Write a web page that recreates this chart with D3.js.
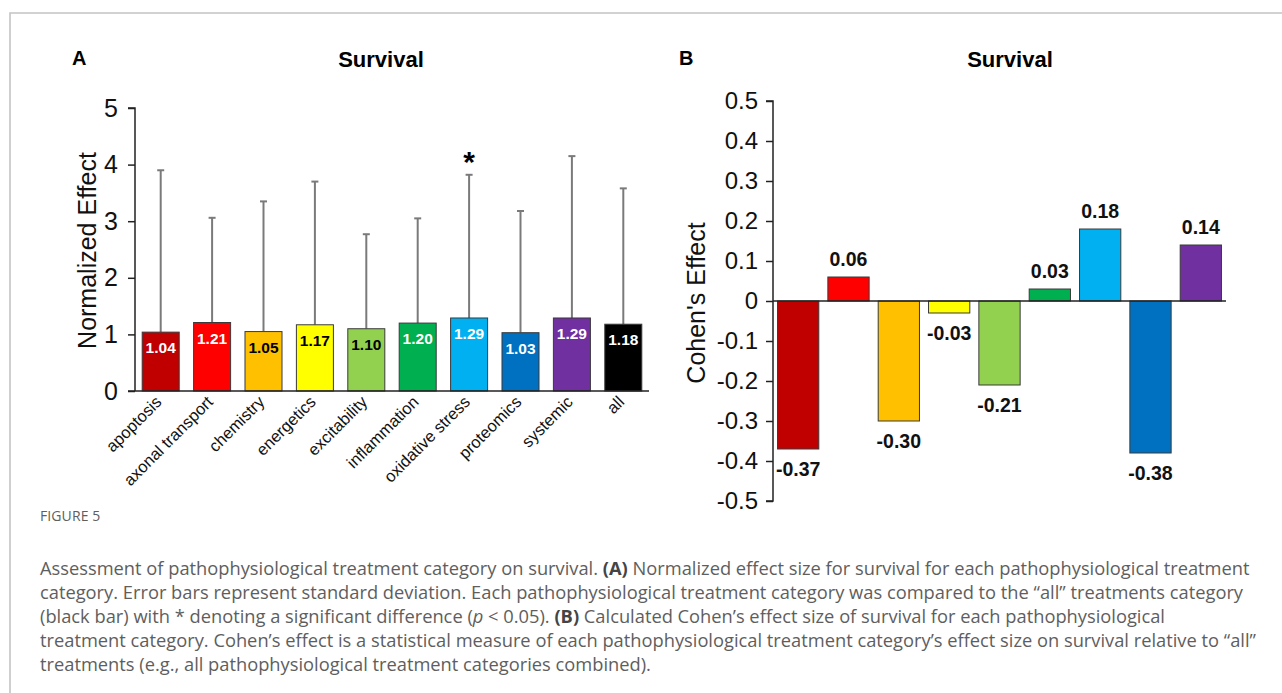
<!DOCTYPE html>
<html>
<head>
<meta charset="utf-8">
<script src="https://cdn.jsdelivr.net/npm/d3@7"></script>
<style>
  html, body { margin: 0; padding: 0; background: #fff; }
  svg { display: block; }
  .chart text { font-family: "Liberation Sans", Arial, sans-serif; }
  .caption text { font-family: "Open Sans", "Noto Sans", sans-serif; }
</style>
</head>
<body>
<svg id="fig" width="1282" height="693"></svg>
<script>
// Treatment categories (the last one pools every treatment)
const categories = ["apoptosis", "axonal transport", "chemistry", "energetics", "excitability",
                    "inflammation", "oxidative stress", "proteomics", "systemic", "all"];
// Panel A: normalized effect (mean) and its standard deviation
const normalizedMean = [1.04, 1.21, 1.05, 1.17, 1.10, 1.20, 1.29, 1.03, 1.29, 1.18];
const normalizedSD   = [2.86, 1.85, 2.30, 2.53, 1.67, 1.85, 2.53, 2.15, 2.86, 2.40];
// Categories significantly different from "all"
const significant = ["oxidative stress"];
// Panel B: Cohen's effect of each category relative to "all"
const cohenCategories = categories.slice(0, 9);
const cohenValues = [-0.37, 0.06, -0.30, -0.03, -0.21, 0.03, 0.18, -0.38, 0.14];
// Axis ticks
const normTicks = [0, 1, 2, 3, 4, 5];
const cohenTicks = [0.5, 0.4, 0.3, 0.2, 0.1, 0, -0.1, -0.2, -0.3, -0.4, -0.5];

const palette = ["#C00000", "#FF0000", "#FFC000", "#FFFF00", "#92D050",
                 "#00B050", "#00B0F0", "#0070C0", "#7030A0", "#000000"];
const color = d3.scaleOrdinal().domain(categories).range(palette);

// pick white or black text depending on bar brightness
function textOn(fill) {
  const c = d3.rgb(fill);
  const lin = v => { v /= 255; return v <= 0.03928 ? v / 12.92 : Math.pow((v + 0.055) / 1.055, 2.4); };
  const L = 0.2126 * lin(c.r) + 0.7152 * lin(c.g) + 0.0722 * lin(c.b);
  return L > 0.45 ? "#000" : "#fff";
}

const svg = d3.select("#fig");

// outer frame (left and top rules)
svg.append("path")
  .attr("d", "M10,693 V13 H1282")
  .attr("fill", "none")
  .attr("stroke", "#c4c4c4")
  .attr("stroke-width", 1.6);

const chart = svg.append("g").attr("class", "chart");

/* ---------------- Panel A ---------------- */
const A = chart.append("g");
const xA = d3.scaleBand().domain(categories).range([135, 649]).paddingInner(0.28).paddingOuter(0.14);
const yA = d3.scaleLinear().domain([0, 5]).range([391, 108]);

A.append("text").attr("x", 72).attr("y", 65)
  .attr("font-size", 20).attr("font-weight", "bold").text("A");
A.append("text").attr("x", 381).attr("y", 67).attr("text-anchor", "middle")
  .attr("font-size", 22).attr("font-weight", "bold").text("Survival");

// y axis
const yAxisA = A.append("g").attr("transform", "translate(135,0)")
  .call(d3.axisLeft(yA).tickValues(normTicks).tickFormat(d3.format("d")).tickSize(7).tickPadding(10));
yAxisA.select(".domain").attr("stroke", "#222").attr("stroke-width", 1.5).attr("d", `M-7,${yA(5)}H0V${yA(0)}`);
yAxisA.selectAll(".tick line").attr("stroke", "#222").attr("stroke-width", 1.5);
yAxisA.selectAll(".tick text").attr("font-size", 25).attr("fill", "#111")
  .attr("font-family", "Liberation Sans, Arial, sans-serif");

A.append("text")
  .attr("transform", `translate(96,${(yA(0) + yA(5)) / 2 + 1}) rotate(-90)`)
  .attr("text-anchor", "middle").attr("font-size", 25).attr("fill", "#111")
  .text("Normalized Effect");

// error bars (upper whisker only)
const errA = A.append("g");
categories.forEach((c, i) => {
  const cx = xA(c) + xA.bandwidth() / 2;
  const top = yA(normalizedMean[i] + normalizedSD[i]);
  errA.append("line").attr("x1", cx).attr("x2", cx)
    .attr("y1", yA(normalizedMean[i])).attr("y2", top)
    .attr("stroke", "#7a7a7a").attr("stroke-width", 2);
  errA.append("line").attr("x1", cx - 3.5).attr("x2", cx + 3.5)
    .attr("y1", top).attr("y2", top)
    .attr("stroke", "#7a7a7a").attr("stroke-width", 2);
});

// bars
A.append("g").selectAll("rect").data(categories).join("rect")
  .attr("x", d => xA(d)).attr("width", xA.bandwidth())
  .attr("y", (d, i) => yA(normalizedMean[i]))
  .attr("height", (d, i) => yA(0) - yA(normalizedMean[i]))
  .attr("fill", d => color(d))
  .attr("stroke", "#3a3a3a").attr("stroke-width", 1);

// value labels inside bars
A.append("g").selectAll("text").data(categories).join("text")
  .attr("x", d => xA(d) + xA.bandwidth() / 2)
  .attr("y", (d, i) => yA(normalizedMean[i]) + 21)
  .attr("text-anchor", "middle").attr("font-size", 15.5).attr("font-weight", "bold")
  .attr("fill", d => textOn(color(d)))
  .text((d, i) => normalizedMean[i].toFixed(2));

// significance marker
A.append("g").selectAll("text").data(significant).join("text")
  .attr("x", d => xA(d) + xA.bandwidth() / 2)
  .attr("y", d => yA(normalizedMean[categories.indexOf(d)] + normalizedSD[categories.indexOf(d)]) - 3)
  .attr("text-anchor", "middle").attr("font-size", 30).attr("font-weight", "bold")
  .text("*");

// baseline and category labels
A.append("line").attr("x1", 128).attr("x2", 649).attr("y1", yA(0)).attr("y2", yA(0))
  .attr("stroke", "#222").attr("stroke-width", 1.5);
A.append("g").selectAll("text").data(categories).join("text")
  .attr("transform", d => `translate(${xA(d) + xA.bandwidth() / 2 + 2},${yA(0) + 12}) rotate(-45)`)
  .attr("text-anchor", "end").attr("font-size", 16.5).attr("fill", "#111")
  .text(d => d);

/* ---------------- Panel B ---------------- */
const B = chart.append("g");
const xB = d3.scaleBand().domain(cohenCategories).range([773, 1226]).paddingInner(0.18).paddingOuter(0.09);
const yB = d3.scaleLinear().domain([-0.5, 0.5]).range([501, 101]);

B.append("text").attr("x", 679).attr("y", 65)
  .attr("font-size", 20).attr("font-weight", "bold").text("B");
B.append("text").attr("x", 1010).attr("y", 67).attr("text-anchor", "middle")
  .attr("font-size", 22).attr("font-weight", "bold").text("Survival");

const yAxisB = B.append("g").attr("transform", "translate(773,0)")
  .call(d3.axisLeft(yB).tickValues(cohenTicks)
    .tickFormat(d => d === 0 ? "0" : d.toFixed(1)).tickSize(7).tickPadding(8));
yAxisB.select(".domain").attr("stroke", "#222").attr("stroke-width", 1.5)
  .attr("d", `M-7,${yB(0.5)}H0V${yB(-0.5)}H-7`);
yAxisB.selectAll(".tick line").attr("stroke", "#222").attr("stroke-width", 1.5);
yAxisB.selectAll(".tick text").attr("font-size", 24).attr("fill", "#111")
  .attr("font-family", "Liberation Sans, Arial, sans-serif");

B.append("text")
  .attr("transform", `translate(705,${yB(0) + 2}) rotate(-90)`)
  .attr("text-anchor", "middle").attr("font-size", 25).attr("fill", "#111")
  .text("Cohen's Effect");

B.append("g").selectAll("rect").data(cohenCategories).join("rect")
  .attr("x", d => xB(d)).attr("width", xB.bandwidth())
  .attr("y", (d, i) => yB(Math.max(0, cohenValues[i])))
  .attr("height", (d, i) => Math.abs(yB(cohenValues[i]) - yB(0)))
  .attr("fill", d => color(d))
  .attr("stroke", "#3a3a3a").attr("stroke-width", 1);

B.append("line").attr("x1", 773).attr("x2", 1226).attr("y1", yB(0)).attr("y2", yB(0))
  .attr("stroke", "#222").attr("stroke-width", 1.5);

B.append("g").selectAll("text").data(cohenCategories).join("text")
  .attr("x", d => xB(d) + xB.bandwidth() / 2)
  .attr("y", (d, i) => cohenValues[i] >= 0 ? yB(cohenValues[i]) - 11 : yB(cohenValues[i]) + 27)
  .attr("text-anchor", "middle").attr("font-size", 19.5).attr("font-weight", "bold").attr("fill", "#111")
  .text((d, i) => cohenValues[i].toFixed(2));

/* ---------------- Caption ---------------- */
const cap = svg.append("g").attr("class", "caption").attr("fill", "#5e5e5e");
cap.append("text").attr("x", 40).attr("y", 521).attr("font-size", 14).attr("letter-spacing", 0.1)
  .text("FIGURE 5");

const captionLines = [
  [["Assessment of pathophysiological treatment category on survival. "], ["(A)", "b"],
   [" Normalized effect size for survival for each pathophysiological treatment"]],
  [["category. Error bars represent standard deviation. Each pathophysiological treatment category was compared to the \u201Call\u201D treatments category"]],
  [["(black bar) with * denoting a significant difference ("], ["p", "i"], [" < 0.05). "], ["(B)", "b"],
   [" Calculated Cohen\u2019s effect size of survival for each pathophysiological"]],
  [["treatment category. Cohen\u2019s effect is a statistical measure of each pathophysiological treatment category\u2019s effect size on survival relative to \u201Call\u201D"]],
  [["treatments (e.g., all pathophysiological treatment categories combined)."]]
];
captionLines.forEach((parts, li) => {
  const t = cap.append("text").attr("x", 40).attr("y", 575 + li * 24).attr("font-size", 18.3);
  parts.forEach(([s, st]) => {
    const sp = t.append("tspan").text(s);
    if (st === "b") sp.attr("font-weight", "bold").attr("fill", "#444");
    if (st === "i") sp.attr("font-style", "italic");
  });
});
</script>
</body>
</html>
